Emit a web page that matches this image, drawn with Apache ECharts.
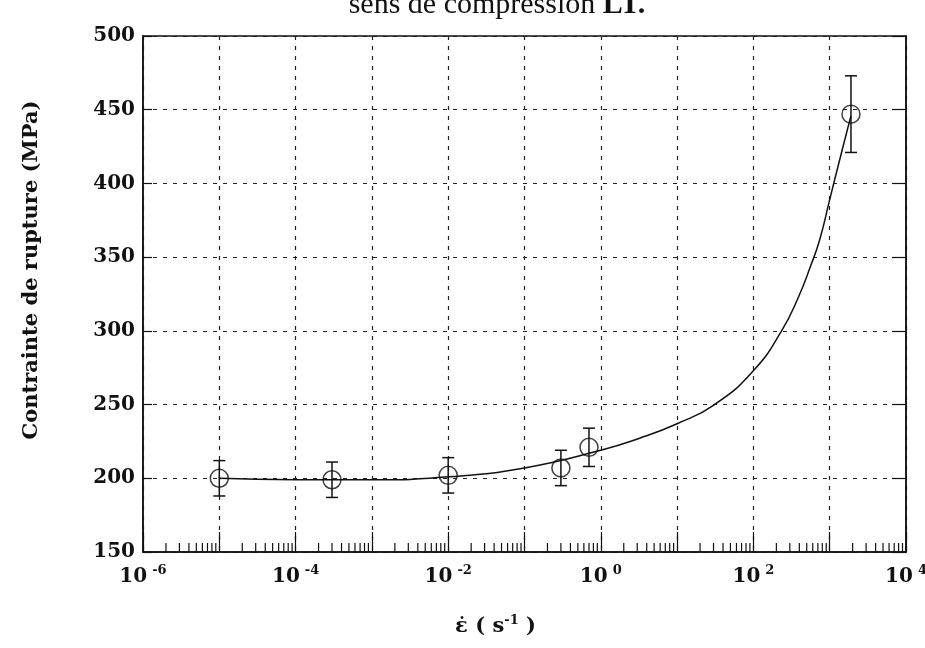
<!doctype html>
<html>
<head>
<meta charset="utf-8">
<title>Contrainte de rupture</title>
<style>
html,body{margin:0;padding:0;background:#fff}
#chart{width:925px;height:648px}
</style>
</head>
<body>
<div id="chart"></div>
<script src="https://cdn.jsdelivr.net/npm/echarts@6/dist/echarts.min.js"></script>
<script>
// points mesures (vitesse de deformation s-1, contrainte MPa, ecart)
var rates = [1e-5, 3e-4, 1e-2, 0.3, 0.7, 1900];
var stress = [200, 199, 202, 207, 221, 447];
var errors = [12, 12, 12, 12, 13, 26];
// courbe lissee
var fitRates = [1e-5, 1e-4, 1e-3, 1e-2, 1e-1, 1, 3.16, 10, 31, 100, 234, 390, 562, 741, 1000, 1413, 1900];
var fitStress = [200, 199, 199, 201, 207, 219, 227, 237, 250, 273, 300, 323, 344, 362, 389, 420, 446];
// graduations
var decades = [-6, -5, -4, -3, -2, -1, 0, 1, 2, 3];
var minorMult = [2, 3, 4, 5, 6, 7, 8, 9];

var serif = 'DejaVu Serif';
var myChart = echarts.init(document.getElementById('chart'));

var minorData = [];
decades.forEach(function (d) {
    minorMult.forEach(function (k) { minorData.push([k * Math.pow(10, d)]); });
});

var option = {
    animation: false,
    backgroundColor: '#fff',
    title: {
        text: 'sens de compression {b|LT.}',
        left: 492,
        textAlign: 'center',
        top: -15,
        textStyle: {
            fontFamily: 'Liberation Serif', fontSize: 30, fontWeight: 'normal', color: '#111',
            rich: { b: { fontFamily: 'Liberation Serif', fontSize: 30, fontWeight: 'bold', color: '#111' } }
        }
    },
    grid: {
        left: 143, right: 19, top: 36, bottom: 96,
        outerBoundsMode: 'none',
        show: true, borderColor: '#111', borderWidth: 1.5, backgroundColor: 'transparent'
    },
    xAxis: {
        type: 'log',
        logBase: 10,
        min: 1e-6,
        max: 1e4,
        interval: 1,
        name: '{e|\u03B5\u0307} ( s{s|-1} )',
        nameLocation: 'middle',
        nameGap: 62,
        nameTextStyle: {
            fontFamily: serif, fontSize: 21, fontWeight: 'bold', color: '#111',
            padding: [0, 58, 0, 0],
            rich: {
                e: { fontFamily: serif, fontSize: 21, fontWeight: 'bold', color: '#111' },
                s: { fontFamily: serif, fontSize: 13, fontWeight: 'bold', color: '#111', padding: [0, 0, 12, 0] }
            }
        },
        axisLine: { lineStyle: { color: '#111', width: 1.5 } },
        axisTick: { inside: true, length: 20, lineStyle: { color: '#111', width: 1.2 } },
        minorTick: { show: false },
        splitLine: { show: true, lineStyle: { color: '#222', type: [4, 6], width: 1.2 } },
        axisLabel: {
            margin: 12,
            formatter: function (v) {
                var e = Math.round(Math.log10(v));
                if (e % 2 !== 0) return '';
                return '{b|10}{s|' + e + '}';
            },
            rich: {
                b: { fontFamily: serif, fontSize: 20, fontWeight: 'bold', color: '#111' },
                s: { fontFamily: serif, fontSize: 13, fontWeight: 'bold', color: '#111', padding: [0, 0, 12, 5] }
            }
        }
    },
    yAxis: [
        {
            type: 'value',
            min: 150,
            max: 500,
            interval: 50,
            name: 'Contrainte de rupture (MPa)',
            nameLocation: 'middle',
            nameGap: 101,
            nameTextStyle: {
                fontFamily: serif, fontSize: 21, fontWeight: 'bold', color: '#111',
                padding: [0, 0, 0, 48]
            },
            axisLine: { show: true, lineStyle: { color: '#111', width: 1.5 } },
            axisTick: { inside: true, length: 9, lineStyle: { color: '#111', width: 1.2 } },
            splitLine: { show: true, lineStyle: { color: '#222', type: [4, 6], width: 1.2 } },
            axisLabel: { margin: 8, fontFamily: serif, fontSize: 20, fontWeight: 'bold', color: '#111' }
        },
        {
            type: 'value',
            position: 'right',
            min: 150,
            max: 500,
            interval: 50,
            axisLine: { show: true, lineStyle: { color: '#111', width: 1.5 } },
            axisTick: { inside: true, length: 14, lineStyle: { color: '#111', width: 1.2 } },
            splitLine: { show: false },
            axisLabel: { show: false }
        }
    ],
    series: [
        {
            // petites graduations logarithmiques
            type: 'custom',
            silent: true,
            data: minorData,
            renderItem: function (params, api) {
                var p = api.coord([api.value(0), 150]);
                return {
                    type: 'line',
                    shape: { x1: p[0], y1: p[1], x2: p[0], y2: p[1] - 9 },
                    style: { stroke: '#111', lineWidth: 1.2 }
                };
            },
            z: 3
        },
        {
            type: 'line',
            smooth: 0.5,
            showSymbol: false,
            lineStyle: { color: '#111', width: 1.5 },
            data: fitRates.map(function (r, i) { return [r, fitStress[i]]; }),
            z: 4
        },
        {
            type: 'custom',
            data: rates.map(function (r, i) { return [r, stress[i], errors[i]]; }),
            renderItem: function (params, api) {
                var x = api.value(0), y = api.value(1), e = api.value(2);
                var t = api.coord([x, y + e]);
                var b = api.coord([x, y - e]);
                var st = { stroke: '#111', lineWidth: 1.5 };
                return {
                    type: 'group',
                    children: [
                        { type: 'line', shape: { x1: t[0], y1: t[1], x2: b[0], y2: b[1] }, style: st },
                        { type: 'line', shape: { x1: t[0] - 6, y1: t[1], x2: t[0] + 6, y2: t[1] }, style: st },
                        { type: 'line', shape: { x1: b[0] - 6, y1: b[1], x2: b[0] + 6, y2: b[1] }, style: st }
                    ]
                };
            },
            z: 5
        },
        {
            type: 'scatter',
            symbol: 'circle',
            symbolSize: 18,
            itemStyle: { color: 'rgba(0,0,0,0)', borderColor: '#111', borderWidth: 1.5 },
            data: rates.map(function (r, i) { return [r, stress[i]]; }),
            z: 6
        }
    ]
};
myChart.setOption(option);
</script>
</body>
</html>
